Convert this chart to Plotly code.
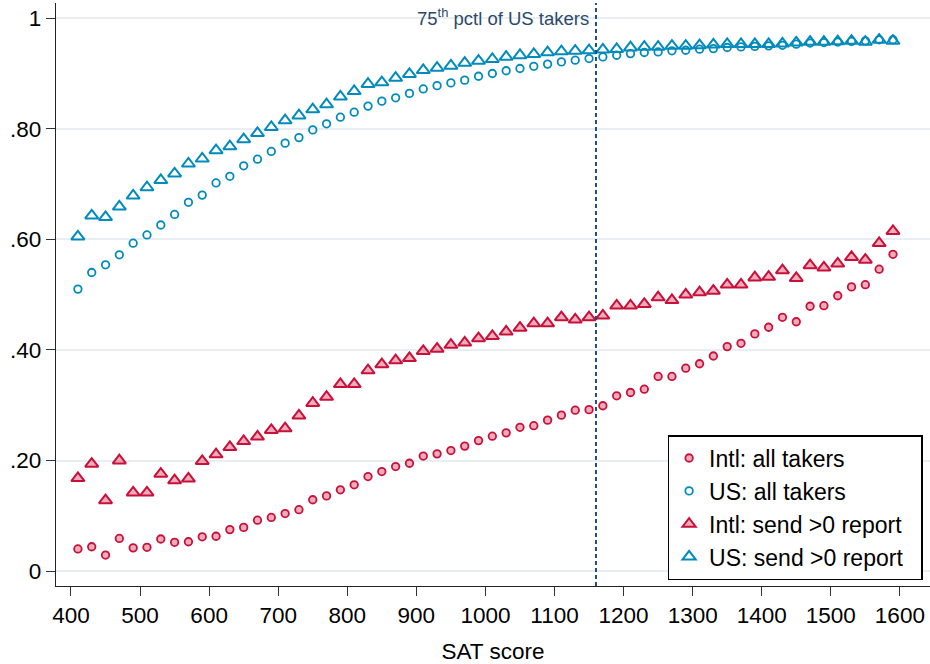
import plotly.graph_objects as go

sat = list(range(410, 1600, 20))

intl_all = [0.040, 0.044, 0.029, 0.059, 0.042, 0.043, 0.058, 0.052, 0.053, 0.062,
            0.063, 0.075, 0.079, 0.092, 0.097, 0.104, 0.111, 0.129, 0.136, 0.147,
            0.156, 0.171, 0.180, 0.189, 0.195, 0.208, 0.212, 0.218, 0.226, 0.236,
            0.244, 0.250, 0.260, 0.263, 0.273, 0.282, 0.291, 0.292, 0.299, 0.317,
            0.323, 0.329, 0.352, 0.352, 0.367, 0.375, 0.389, 0.406, 0.412, 0.429,
            0.441, 0.459, 0.451, 0.479, 0.480, 0.498, 0.514, 0.518, 0.546, 0.573]

us_all = [0.510, 0.540, 0.554, 0.572, 0.593, 0.608, 0.626, 0.645, 0.667, 0.680,
          0.702, 0.714, 0.733, 0.745, 0.759, 0.774, 0.784, 0.798, 0.809, 0.821,
          0.830, 0.841, 0.850, 0.856, 0.864, 0.872, 0.878, 0.883, 0.888, 0.895,
          0.900, 0.905, 0.909, 0.913, 0.917, 0.921, 0.924, 0.927, 0.930, 0.933,
          0.936, 0.938, 0.939, 0.941, 0.942, 0.944, 0.945, 0.947, 0.948, 0.949,
          0.950, 0.951, 0.953, 0.955, 0.956, 0.957, 0.958, 0.959, 0.961, 0.961]

intl_send = [0.168, 0.194, 0.128, 0.200, 0.142, 0.142, 0.176, 0.164, 0.167, 0.199,
             0.211, 0.224, 0.235, 0.243, 0.255, 0.258, 0.281, 0.304, 0.315, 0.338,
             0.338, 0.363, 0.374, 0.381, 0.385, 0.398, 0.402, 0.409, 0.413, 0.421,
             0.425, 0.433, 0.440, 0.448, 0.448, 0.459, 0.455, 0.459, 0.462, 0.480,
             0.480, 0.483, 0.495, 0.490, 0.500, 0.504, 0.507, 0.518, 0.518, 0.531,
             0.532, 0.544, 0.530, 0.553, 0.549, 0.556, 0.568, 0.563, 0.593, 0.615]

us_send = [0.605, 0.643, 0.640, 0.659, 0.679, 0.694, 0.707, 0.719, 0.737, 0.746,
           0.761, 0.768, 0.781, 0.792, 0.803, 0.815, 0.824, 0.835, 0.844, 0.858,
           0.868, 0.881, 0.884, 0.892, 0.899, 0.906, 0.910, 0.914, 0.919, 0.923,
           0.926, 0.930, 0.933, 0.935, 0.938, 0.940, 0.941, 0.942, 0.943, 0.944,
           0.947, 0.948, 0.948, 0.950, 0.950, 0.951, 0.952, 0.953, 0.953, 0.953,
           0.953, 0.954, 0.956, 0.957, 0.957, 0.958, 0.959, 0.957, 0.961, 0.959]

series_names = ["Intl: all takers", "US: all takers",
                "Intl: send >0 report", "US: send >0 report"]

pctl75 = 1160
xticks = list(range(400, 1700, 100))
yticks = [0, 0.2, 0.4, 0.6, 0.8, 1.0]
yticklabels = ["0", ".20", ".40", ".60", ".80", "1"]

RED = "rgb(200,16,58)"
RED_FILL = "rgba(200,16,58,0.35)"
BLUE = "rgb(0,139,188)"
FONT = "Liberation Sans, Arial, sans-serif"
PAD = "\u00a0\u00a0"  # trailing padding so the legend box is as wide as the original

fig = go.Figure()
fig.add_trace(go.Scatter(x=sat, y=intl_all, mode="markers", name=series_names[0],
                         marker=dict(symbol="circle", size=7.5, color=RED_FILL,
                                     line=dict(color=RED, width=1.8))))
fig.add_trace(go.Scatter(x=sat, y=us_all, mode="markers", name=series_names[1],
                         marker=dict(symbol="circle-open", size=7.5, color=BLUE,
                                     line=dict(color=BLUE, width=1.8))))
fig.add_trace(go.Scatter(x=sat, y=intl_send, mode="markers", name=series_names[2] + PAD,
                         marker=dict(symbol="triangle-up", size=11.5, color=RED_FILL,
                                     line=dict(color=RED, width=2))))
fig.add_trace(go.Scatter(x=sat, y=us_send, mode="markers", name=series_names[3] + PAD,
                         marker=dict(symbol="triangle-up-open", size=11.5, color=BLUE,
                                     line=dict(color=BLUE, width=2))))

fig.add_shape(type="line", xref="x", yref="paper", x0=pctl75, x1=pctl75, y0=0, y1=1,
              line=dict(color="#1f4e79", width=2, dash="4px,3px"), layer="above")
fig.add_annotation(x=pctl75, xref="x", y=0.976, yref="paper", xanchor="right",
                   yanchor="middle", xshift=-5, showarrow=False,
                   text="75<sup>th</sup> pctl of US takers",
                   font=dict(family=FONT, size=18.5, color="#2b4a6b"))

fig.update_layout(
    width=930, height=664,
    margin=dict(l=56, r=0, t=3, b=78, autoexpand=False),
    paper_bgcolor="white", plot_bgcolor="white",
    font=dict(family=FONT, size=22, color="black"),
    showlegend=True,
    legend=dict(x=0.700, y=0.2586, xanchor="left", yanchor="top",
                bgcolor="white", bordercolor="black", borderwidth=1.3,
                font=dict(family=FONT, size=23, color="black")),
    xaxis=dict(range=[378.3, 1643.6], tickvals=xticks, ticks="outside", ticklen=9,
               tickwidth=1.3, tickcolor="#333", showline=True, linecolor="#222",
               linewidth=1.3, showgrid=False, zeroline=False, automargin=False,
               tickfont=dict(size=22.5),
               title=dict(text="SAT score", font=dict(size=22.5), standoff=20)),
    yaxis=dict(range=[-0.027, 1.0275], tickvals=yticks, ticktext=yticklabels,
               ticks="outside", ticklen=9, tickwidth=1.3, tickcolor="#333",
               showline=True, linecolor="#222", linewidth=1.3, automargin=False,
               showgrid=True, gridcolor="#e8eef2", gridwidth=1.5, zeroline=False,
               tickfont=dict(size=22.5)),
)

fig.write_html("out.html", config={"displayModeBar": False},
               post_script="document.body.style.margin='0';document.body.style.overflow='hidden';")
